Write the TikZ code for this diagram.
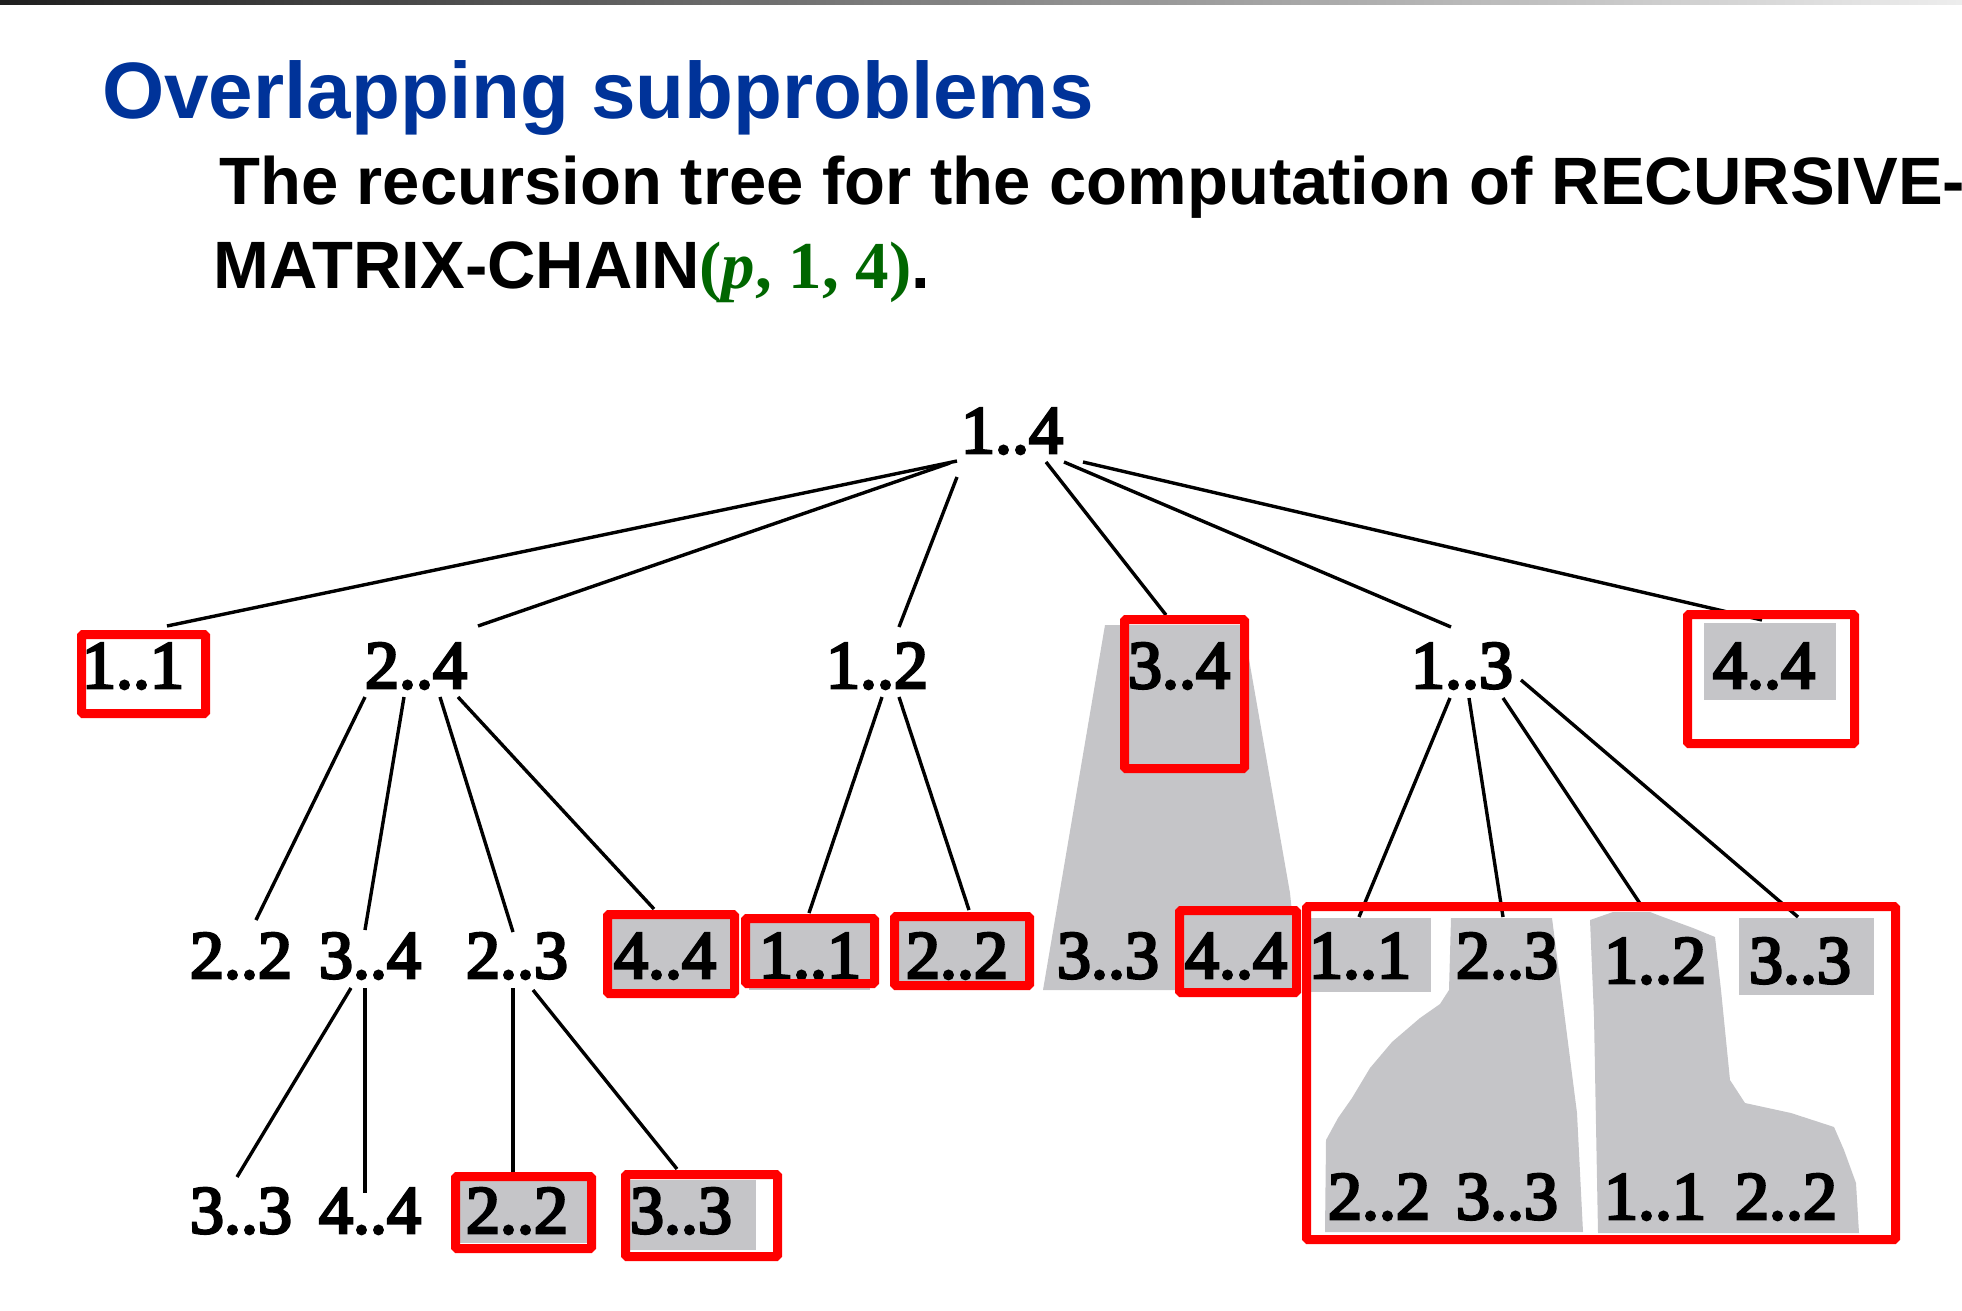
\documentclass[tikz,border=0pt]{standalone}
\usepackage{fontspec}
\setmainfont{Liberation Serif}
\newfontfamily\headsans{Liberation Sans}
\newfontfamily\treefont[FakeBold=4]{Liberation Serif}
\definecolor{titleblue}{RGB}{0,51,153}
\definecolor{arggreen}{RGB}{0,102,0}
\definecolor{shadegray}{RGB}{197,197,200}
\definecolor{markred}{RGB}{255,0,0}
\begin{document}
\begin{tikzpicture}[x=1pt,y=-1pt,
  lbl/.style={font=\treefont\fontsize{68}{68}\selectfont, inner sep=0pt, anchor=base},
  edge/.style={line width=3.4pt, black},
  hit/.style={draw=markred, line width=9pt, rounded corners=1.5pt},
  shade/.style={fill=shadegray},
  headline/.style={anchor=base west, inner sep=0pt},
]
\useasboundingbox (0,0) rectangle (1962,1310);

% header bar
\shade[left color=black!88, right color=black!7] (0,0) rectangle (1962,4);

% headings
\node[headline, text=titleblue, font=\headsans\bfseries\fontsize{80}{80}\selectfont] (title) at (102,118) {Overlapping subproblems};
\node[headline, font=\headsans\bfseries\fontsize{67}{67}\selectfont] (cap1) at (219,204) {The recursion tree for the computation of RECURSIVE-};
\node[headline, font=\headsans\bfseries\fontsize{67}{67}\selectfont] (cap2) at (213,288) {MATRIX-CHAIN{\rmfamily\color{arggreen}(\textit{p}, 1, 4)}.};

% shaded (already computed) subtrees
\fill[shade] (1105,625) -- (1243,625) -- (1290,893) -- (1300,990) -- (1043,990) -- cycle;
\fill[shade] (1704,623) rectangle (1836,700);
\fill[shade] (611,918) rectangle (730,990);
\fill[shade] (749,922) rectangle (870,990);
\fill[shade] (898,918) rectangle (1030,990);
\fill[shade] (1310,918) rectangle (1431,992);
\fill[shade] (1739,918) rectangle (1874,995);
\fill[shade] (459,1181) rectangle (588,1243);
\fill[shade] (629,1180) rectangle (756,1250);
\fill[shade] (1451,918) -- (1552,918) -- (1560,980) -- (1577,1113) -- (1583,1232)
  -- (1325,1232) -- (1326,1140) -- (1338,1118) -- (1352,1098) -- (1370,1068) -- (1392,1042)
  -- (1420,1018) -- (1440,1004) -- (1449,990) -- cycle;
\fill[shade] (1590,920) -- (1613,912) -- (1650,912) -- (1663,917) -- (1693,928) -- (1715,937)
  -- (1721,990) -- (1730,1080) -- (1745,1103) -- (1791,1113) -- (1834,1127) -- (1844,1150)
  -- (1856,1183) -- (1859,1233) -- (1598,1233) -- (1594,1017) -- cycle;

% tree labels
\node[lbl] (r)    at (1012,453) {1..4};
\node[lbl] (a11)  at (133,688)  {1..1};
\node[lbl] (a24)  at (416,688)  {2..4};
\node[lbl] (a12)  at (877,688)  {1..2};
\node[lbl] (a34)  at (1179,688) {3..4};
\node[lbl] (a13)  at (1462,688) {1..3};
\node[lbl] (a44)  at (1764,688) {4..4};
\node[lbl] (b22)  at (241,978)  {2..2};
\node[lbl] (b34)  at (370,978)  {3..4};
\node[lbl] (b23)  at (517,978)  {2..3};
\node[lbl] (b44)  at (665,978)  {4..4};
\node[lbl] (b11)  at (810,978)  {1..1};
\node[lbl] (b22r) at (957,978)  {2..2};
\node[lbl] (b33)  at (1108,978) {3..3};
\node[lbl] (b44r) at (1236,978) {4..4};
\node[lbl] (c11)  at (1360,978) {1..1};
\node[lbl] (c23)  at (1507,978) {2..3};
\node[lbl] (c12)  at (1655,983) {1..2};
\node[lbl] (c33)  at (1800,983) {3..3};
\node[lbl] (d33)  at (241,1233) {3..3};
\node[lbl] (d44)  at (370,1233) {4..4};
\node[lbl] (d22)  at (517,1233) {2..2};
\node[lbl] (d33r) at (681,1233) {3..3};
\node[lbl] (e22)  at (1379,1219) {2..2};
\node[lbl] (e33)  at (1507,1219) {3..3};
\node[lbl] (e11)  at (1655,1219) {1..1};
\node[lbl] (e22r) at (1786,1219) {2..2};

% edges from the root
\draw[edge] ([shift={(-55,8)}]r.base)  -- ([shift={(34,-62)}]a11.base);
\draw[edge] ([shift={(-62,10)}]r.base) -- ([shift={(62,-62)}]a24.base);
\draw[edge] ([shift={(-55,24)}]r.base) -- ([shift={(22,-61)}]a12.base);
\draw[edge] ([shift={(34,9)}]r.base)   -- ([shift={(-13,-73)}]a34.base);
\draw[edge] ([shift={(52,9)}]r.base)   -- ([shift={(-11,-61)}]a13.base);
\draw[edge] ([shift={(71,9)}]r.base)   -- ([shift={(-2,-68)}]a44.base);

% edges from 2..4, 1..2 and 1..3
\draw[edge] ([shift={(-51,9)}]a24.base) -- ([shift={(15,-58)}]b22.base);
\draw[edge] ([shift={(-12,9)}]a24.base) -- ([shift={(-5,-48)}]b34.base);
\draw[edge] ([shift={(24,9)}]a24.base)  -- ([shift={(-4,-46)}]b23.base);
\draw[edge] ([shift={(42,9)}]a24.base)  -- ([shift={(-11,-69)}]b44.base);
\draw[edge] ([shift={(5,9)}]a12.base)   -- ([shift={(-1,-65)}]b11.base);
\draw[edge] ([shift={(22,9)}]a12.base)  -- ([shift={(12,-68)}]b22r.base);
\draw[edge] ([shift={(-12,10)}]a13.base) -- ([shift={(-1,-61)}]c11.base);
\draw[edge] ([shift={(7,10)}]a13.base)   -- ([shift={(-4,-61)}]c23.base);
\draw[edge] ([shift={(41,10)}]a13.base)  -- ([shift={(-14,-78)}]c12.base);
\draw[edge] ([shift={(59,-8)}]a13.base)  -- ([shift={(-2,-66)}]c33.base);

% edges from 3..4 and 2..3 on the second level
\draw[edge] ([shift={(-19,10)}]b34.base) -- ([shift={(-4,-56)}]d33.base);
\draw[edge] ([shift={(-5,10)}]b34.base)  -- ([shift={(-5,-40)}]d44.base);
\draw[edge] ([shift={(-4,10)}]b23.base)  -- ([shift={(-4,-61)}]d22.base);
\draw[edge] ([shift={(16,12)}]b23.base)  -- ([shift={(-4,-64)}]d33r.base);

% red frames round repeated subproblems
\draw[hit] (81.5,634.5) rectangle (205.5,713.5);
\draw[hit] (1124.5,619.5) rectangle (1244.5,768.5);
\draw[hit] (1687.5,614.5) rectangle (1854.5,743.5);
\draw[hit] (607.5,914.5) rectangle (734.5,993.5);
\draw[hit] (745.5,918.5) rectangle (874.5,983.5);
\draw[hit] (894.5,916.5) rectangle (1029.5,985.5);
\draw[hit] (1179.5,910.5) rectangle (1296.5,992.5);
\draw[hit] (1306.5,906.5) rectangle (1895.5,1239.5);
\draw[hit] (455.5,1176.5) rectangle (591.5,1248.5);
\draw[hit] (625.5,1174.5) rectangle (777.5,1256.5);
\end{tikzpicture}
\end{document}
